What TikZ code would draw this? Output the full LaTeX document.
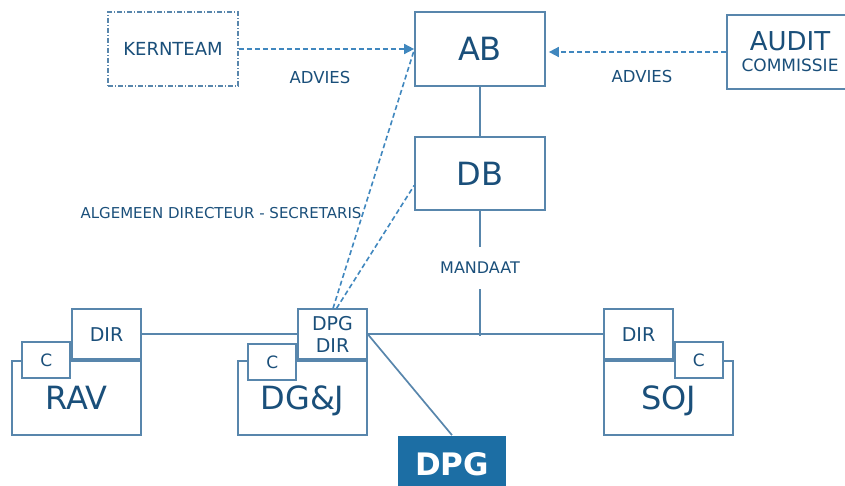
\documentclass[tikz,border=0pt]{standalone}
\usepackage{fontspec}
\setmainfont{DejaVu Sans}
\usetikzlibrary{positioning,arrows.meta}
\definecolor{orgtext}{RGB}{26,79,122}
\definecolor{orgline}{RGB}{88,134,172}
\definecolor{orgdash}{RGB}{64,135,190}
\definecolor{orgfill}{RGB}{28,110,164}
\tikzset{
    orgbox/.style={draw=orgline, line width=1.7pt, fill=white, text=orgtext, inner sep=0pt},
    unit/.style={orgbox, minimum width=129pt, minimum height=74pt, text height=23.3pt, text depth=0pt,
                 font=\fontsize{32}{34}\selectfont},
    dirbox/.style={orgbox, minimum width=69pt, minimum height=50pt, font=\fontsize{19}{22}\selectfont, align=center},
    cbox/.style={orgbox, minimum width=48pt, minimum height=36pt, font=\fontsize{17}{18}\selectfont},
    lbl/.style={text=orgtext, inner sep=0pt, font=\fontsize{16}{18}\selectfont},
    link/.style={draw=orgline, line width=1.7pt},
    advies/.style={draw=orgdash, line width=1.6pt, dash pattern=on 5pt off 3pt, -{Triangle[length=10pt,width=10pt]}},
    secr/.style={draw=orgdash, line width=1.6pt, dash pattern=on 5pt off 3pt},
}
\begin{document}
\begin{tikzpicture}[x=1pt, y=-1pt]
    \useasboundingbox (0,0) rectangle (845,486);
    % top
    \node[orgbox, minimum width=130pt, minimum height=74pt, font=\fontsize{18}{20}\selectfont,
          dash pattern=on 5pt off 2pt on 1pt off 2pt] (kernteam) at (173,49) {KERNTEAM};
    \node[unit, minimum width=130pt] (ab) at (480,49) {AB};
    \node[unit, minimum width=130pt, minimum height=73pt] (db) at (480,173.5) {DB};
    \node[orgbox, minimum width=126pt, minimum height=74pt, align=center,
          font=\fontsize{26}{21}\selectfont] (audit) at (790,52) {AUDIT\\{\fontsize{17}{18}\selectfont COMMISSIE}};
    \node[lbl, font=\fontsize{16.5}{18}\selectfont] (advkern) at (320,77) {ADVIES};
    \node[lbl, font=\fontsize{16.5}{18}\selectfont] (advaudit) at (642,76) {ADVIES};
    \node[lbl, font=\fontsize{15}{17}\selectfont] (secretaris) at (221,213) {ALGEMEEN DIRECTEUR - SECRETARIS};
    \node[lbl, minimum height=42pt] (mandaat) at (480,268) {MANDAAT};
    \coordinate (junct) at (480,336);
    % units
    \node[unit] (rav) at (76.5,398) {RAV};
    \node[dirbox, anchor=south east] (ravdir) at (rav.north east) {DIR};
    \node[cbox, anchor=north east] (ravc) at ([yshift=19pt]ravdir.south west) {C};
    \node[unit] (dgj) at (302.5,398) {DG\&J};
    \node[dirbox, anchor=south east] (dpgdir) at (dgj.north east) {DPG\\DIR};
    \node[cbox, anchor=north east] (dgjc) at ([yshift=17pt]dpgdir.south west) {C};
    \node[unit] (soj) at (668.5,398) {SOJ};
    \node[dirbox, anchor=south west] (sojdir) at (soj.north west) {DIR};
    \node[cbox, anchor=north west] (sojc) at ([yshift=19pt]sojdir.south east) {C};
    \node[orgbox, draw=none, fill=orgfill, text=white, minimum width=108pt, minimum height=56pt,
          font=\bfseries\fontsize{31}{33}\selectfont] (dpg) at (452,464) {DPG};
    % connectors
    \draw[advies] (kernteam) -- (ab);
    \draw[advies, shorten >=3pt] (audit.west) -- (audit.west -| ab.east);
    \draw[link] (ab) -- (db);
    \draw[link] (db) -- (mandaat) -- (junct);
    \draw[link] (ravdir) -- (dpgdir);
    \draw[link] (dpgdir) -- (sojdir);
    \draw[link] (dpgdir.east) -- (dpg.north);
    \draw[secr] ([xshift=0.5pt]dpgdir.north) -- ([yshift=-1pt]ab.west);
    \draw[secr] ([xshift=4pt]dpgdir.north) -- ([yshift=-12pt]db.west);
\end{tikzpicture}
\end{document}
